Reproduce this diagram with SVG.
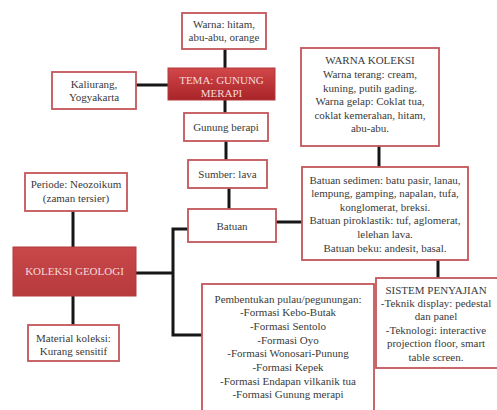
<svg xmlns="http://www.w3.org/2000/svg" width="497" height="410" viewBox="0 0 497 410">
<defs>
<linearGradient id="redA" x1="0" y1="0" x2="0" y2="1">
<stop offset="0" stop-color="#d2474a"/>
<stop offset="1" stop-color="#a82428"/>
</linearGradient>
<linearGradient id="redB" x1="0" y1="0" x2="0" y2="1">
<stop offset="0" stop-color="#c9484a"/>
<stop offset="1" stop-color="#b73a3c"/>
</linearGradient>
</defs>
<style>
.box{fill:#ffffff;stroke:#c4565a;stroke-width:1.8}
.rbox{stroke:#b23a3c;stroke-width:1}
text{font-family:'Times New Roman','Liberation Serif',serif;font-size:11px;fill:#3a3a3a;text-anchor:middle}
.w{fill:#f6dada}
.c{fill:none;stroke:#161616;stroke-width:3}
</style>
<rect width="497" height="410" fill="#ffffff"/>
<g id="connectors">
<line class="c" x1="225" y1="49" x2="225" y2="68"/>
<line class="c" x1="136" y1="85" x2="168" y2="85"/>
<line class="c" x1="225" y1="100" x2="225" y2="113"/>
<line class="c" x1="226" y1="141" x2="226" y2="160"/>
<line class="c" x1="229" y1="188" x2="229" y2="209"/>
<line class="c" x1="276" y1="222" x2="302" y2="222"/>
<line class="c" x1="379" y1="146" x2="379" y2="167"/>
<line class="c" x1="438" y1="260" x2="438" y2="278"/>
<line class="c" x1="73" y1="211" x2="73" y2="247"/>
<line class="c" x1="73" y1="296" x2="73" y2="325"/>
<line class="c" x1="136" y1="273" x2="173" y2="273"/>
<polyline class="c" points="188,229 173,229 173,335 202,335"/>
</g>
<g id="warna">
<rect class="box" x="182" y="13" width="84" height="36"/>
<text x="224" y="27.5">Warna: hitam,</text>
<text x="224" y="41">abu-abu, orange</text>
</g>
<g id="tema">
<rect class="rbox" x="168" y="68" width="107" height="32" fill="url(#redA)"/>
<text class="w" x="221.5" y="83.5">TEMA: GUNUNG</text>
<text class="w" x="221.5" y="96.5">MERAPI</text>
</g>
<g id="kaliurang">
<rect class="box" x="52" y="72" width="84" height="37"/>
<text x="94" y="87.5">Kaliurang,</text>
<text x="94" y="101">Yogyakarta</text>
</g>
<g id="gunung-berapi">
<rect class="box" x="184" y="113" width="84" height="28"/>
<text x="226" y="130.5">Gunung berapi</text>
</g>
<g id="sumber">
<rect class="box" x="188" y="160" width="79" height="28"/>
<text x="227.5" y="177.5">Sumber: lava</text>
</g>
<g id="batuan">
<rect class="box" x="188" y="209" width="88" height="33"/>
<text x="232" y="229.5">Batuan</text>
</g>
<g id="warna-koleksi">
<rect class="box" x="301" y="48" width="138" height="98"/>
<text x="370" y="64">WARNA KOLEKSI</text>
<text x="370" y="77.5">Warna terang: cream,</text>
<text x="370" y="91.5">kuning, putih gading.</text>
<text x="370" y="105">Warna gelap: Coklat tua,</text>
<text x="370" y="118.5">coklat kemerahan, hitam,</text>
<text x="370" y="132">abu-abu.</text>
</g>
<g id="batuan-sedimen">
<rect class="box" x="302" y="167" width="166" height="93"/>
<text x="385" y="184">Batuan sedimen: batu pasir, lanau,</text>
<text x="385" y="197">lempung, gamping, napalan, tufa,</text>
<text x="385" y="210.5">konglomerat, breksi.</text>
<text x="385" y="224">Batuan piroklastik: tuf, aglomerat,</text>
<text x="385" y="237.5">lelehan lava.</text>
<text x="385" y="251.5">Batuan beku: andesit, basal.</text>
</g>
<g id="periode">
<rect class="box" x="25" y="173" width="102" height="38"/>
<text x="76" y="188">Periode: Neozoikum</text>
<text x="76" y="202">(zaman tersier)</text>
</g>
<g id="koleksi-geologi">
<rect class="rbox" x="13" y="247" width="123" height="49" fill="url(#redB)"/>
<text class="w" x="74.5" y="274.5">KOLEKSI GEOLOGI</text>
</g>
<g id="material">
<rect class="box" x="28" y="325" width="91" height="36"/>
<text x="73.5" y="341.5">Material koleksi:</text>
<text x="73.5" y="354.5">Kurang sensitif</text>
</g>
<g id="pembentukan">
<rect class="box" x="202" y="284" width="172" height="140"/>
<text x="288" y="302.5">Pembentukan pulau/pegunungan:</text>
<text x="288" y="316">-Formasi Kebo-Butak</text>
<text x="288" y="329.5">-Formasi Sentolo</text>
<text x="288" y="343.5">-Formasi Oyo</text>
<text x="288" y="357">-Formasi Wonosari-Punung</text>
<text x="288" y="370.5">-Formasi Kepek</text>
<text x="288" y="384.5">-Formasi Endapan vilkanik tua</text>
<text x="288" y="398">-Formasi Gunung merapi</text>
</g>
<g id="sistem">
<rect class="box" x="376" y="278" width="125" height="90"/>
<text x="436" y="293.5">SISTEM PENYAJIAN</text>
<text x="436" y="307">-Teknik display: pedestal</text>
<text x="436" y="320">dan panel</text>
<text x="436" y="333.5">-Teknologi: interactive</text>
<text x="436" y="347">projection floor, smart</text>
<text x="436" y="360.5">table screen.</text>
</g>
</svg>
